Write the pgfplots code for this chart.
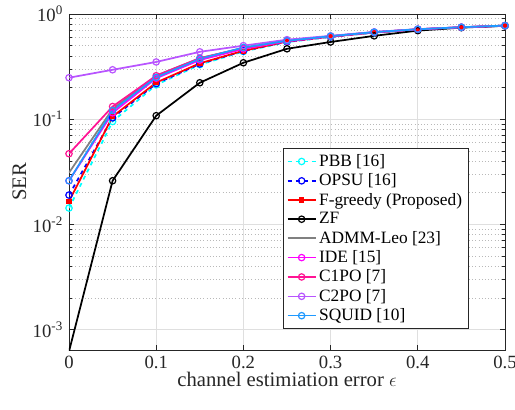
\documentclass[border=0pt]{standalone}
\usepackage{fontspec}
\setmainfont{Liberation Serif}
\usepackage{pgfplots}
\pgfplotsset{compat=1.18}
\definecolor{axgray}{rgb}{0.15,0.15,0.15}
\definecolor{cpbb}{rgb}{0,1,1}
\definecolor{copsu}{rgb}{0,0,1}
\definecolor{cfg}{rgb}{1,0,0}
\definecolor{cadmm}{rgb}{0.5,0.5,0.5}
\definecolor{cide}{rgb}{1,0,1}
\definecolor{cc1}{rgb}{1,0.08,0.58}
\definecolor{cc2}{rgb}{0.72,0.33,1}
\definecolor{csq}{rgb}{0.12,0.6,1}
\pgfplotstableread{
x PBB OPSU FG ZF ADMM IDE C1 C2 SQ
0    0.0143 0.019 0.0166 6.2e-4 0.031 0.026 0.047 0.248 0.026
0.05 0.095 0.103 0.106 0.026 0.125 0.115 0.132 0.295 0.121
0.1  0.212 0.218 0.223 0.108 0.26 0.245 0.259 0.35 0.25
0.15 0.33 0.335 0.34 0.222 0.38 0.365 0.38 0.437 0.375
0.2  0.44 0.445 0.447 0.344 0.475 0.465 0.475 0.5 0.48
0.25 0.54 0.545 0.548 0.467 0.555 0.55 0.556 0.57 0.556
0.3  0.605 0.607 0.609 0.542 0.615 0.612 0.614 0.62 0.615
0.35 0.665 0.667 0.668 0.62 0.672 0.67 0.671 0.675 0.672
0.4  0.712 0.713 0.714 0.695 0.716 0.715 0.716 0.718 0.716
0.45 0.745 0.746 0.747 0.742 0.748 0.748 0.748 0.749 0.749
0.5  0.772 0.773 0.774 0.772 0.775 0.775 0.775 0.776 0.776
}\datatable
\begin{document}
\begin{tikzpicture}
\useasboundingbox (-51.75pt,-45pt) rectangle (334.5pt,262.5pt);
\begin{axis}[
  scale only axis,
  width=327pt, height=252pt,
  ymode=log,
  xmin=0, xmax=0.5, ymin=6.4e-4, ymax=1,
  xtick={0,0.1,0.2,0.3,0.4,0.5},
  xticklabels={0,0.1,0.2,0.3,0.4,0.5},
  ytick={1e-3,1e-2,1e-1,1},
  yticklabels={10\textsuperscript{-3},10\textsuperscript{-2},10\textsuperscript{-1},10\textsuperscript{0}},
  minor x tick num=0,
  grid=both,
  major grid style={solid, gray!25, line width=0.5pt},
  minor grid style={dotted, gray!55, line width=0.5pt},
  tick align=inside,
  axis line style={axgray, line width=0.6pt},
  tick style={axgray, line width=0.5pt},
  major tick length=4pt, minor tick length=2pt,
  ticklabel style={font=\fontsize{14}{16}\selectfont, text=axgray},
  xticklabel style={yshift=-1pt},
  yticklabel style={xshift=-1pt},
  xlabel={channel estimiation error $\epsilon$},
  ylabel={SER},
  label style={font=\fontsize{15.5}{18}\selectfont, text=axgray},
  xlabel style={yshift=4pt},
  ylabel style={yshift=-2pt},
  legend cell align=left,
  legend style={at={(0.491,0.601)}, anchor=north west, font=\fontsize{13}{15}\selectfont,
    draw=axgray, line width=0.6pt, row sep=0pt, inner sep=2.5pt},
  legend image post style={line width=1.2pt},
  every axis plot/.append style={line width=1.3pt, mark size=2.4pt, mark options={solid, line width=0.9pt},
    legend image code/.code={\draw[mark repeat=2,mark phase=2,##1] plot coordinates {(0cm,0cm) (0.37cm,0cm) (0.74cm,0cm)};}},
]
\addplot[cpbb, dashed, mark=o] table[x=x,y=PBB]{\datatable};
\addlegendentry{PBB [16]}
\addplot[copsu, dashed, mark=o] table[x=x,y=OPSU]{\datatable};
\addlegendentry{OPSU [16]}
\addplot[cfg, mark=square*, mark size=1.6pt] table[x=x,y=FG]{\datatable};
\addlegendentry{F-greedy (Proposed)}
\addplot[black, mark=o] table[x=x,y=ZF]{\datatable};
\addlegendentry{ZF}
\addplot[cadmm] table[x=x,y=ADMM]{\datatable};
\addlegendentry{ADMM-Leo [23]}
\addplot[cide, mark=o] table[x=x,y=IDE]{\datatable};
\addlegendentry{IDE [15]}
\addplot[cc1, mark=o] table[x=x,y=C1]{\datatable};
\addlegendentry{C1PO [7]}
\addplot[cc2, mark=o] table[x=x,y=C2]{\datatable};
\addlegendentry{C2PO [7]}
\addplot[csq, mark=o] table[x=x,y=SQ]{\datatable};
\addlegendentry{SQUID [10]}
\end{axis}
\end{tikzpicture}
\end{document}
